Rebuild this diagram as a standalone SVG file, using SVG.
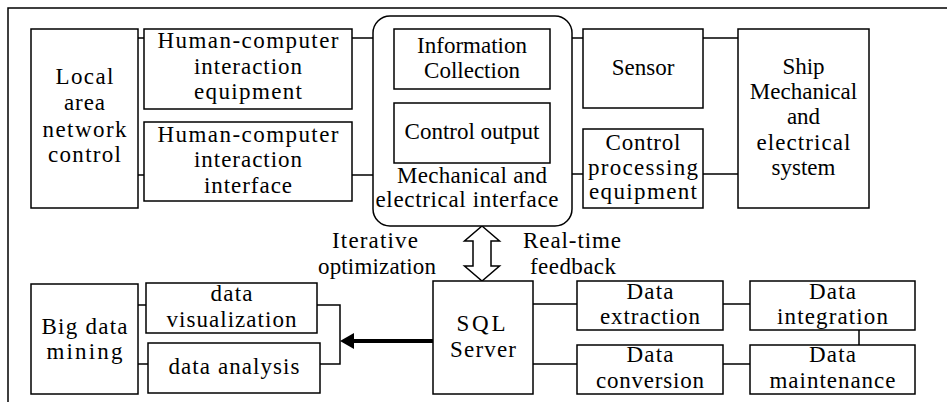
<svg xmlns="http://www.w3.org/2000/svg" width="947" height="402" viewBox="0 0 947 402">
<style>
  .box { fill: #fff; stroke: #000; stroke-width: 1.5; }
  .ln { fill: none; stroke: #000; stroke-width: 1.5; }
  text { font-family: "Liberation Serif", "Times New Roman", serif; font-size: 23px; fill: #000; text-anchor: middle; }
</style>
<rect width="947" height="402" fill="#fff"/>
<g id="frame">
  <path class="ln" d="M8,402 V8 H947" stroke-width="2"/>
</g>
<g id="connectors">
  <path class="ln" d="M138,38 H144 M138,175 H144"/>
  <path class="ln" d="M352,38 H373 M352,175 H373"/>
  <path class="ln" d="M572,38 H583 M703,38 H738"/>
  <path class="ln" d="M572,174 H583 M703,174 H738"/>
  <path class="ln" d="M138,305 H146 M138,364 H148"/>
  <path class="ln" d="M317,305 H340 V364 H320"/>
  <path class="ln" d="M533,304 H577 M723,304 H750"/>
  <path class="ln" d="M533,364 H577 M723,364 H750"/>
  <path class="ln" d="M859,330 V345"/>
  <path d="M433,341 H353" stroke="#000" stroke-width="4" fill="none"/>
  <path d="M340,341 L354,333 L354,349 Z" fill="#000"/>
  <path class="ln" d="M482,226 L499.5,241 H491 V266 H499.5 L482,281 L464.5,266 H473 V241 H464.5 Z" fill="#fff"/>
</g>
<g id="labels">
  <text x="375" y="247.5" textLength="86" lengthAdjust="spacing">Iterative</text>
  <text x="377" y="273.5" textLength="118" lengthAdjust="spacing">optimization</text>
  <text x="572" y="247.5" textLength="98" lengthAdjust="spacing">Real-time</text>
  <text x="573" y="273.5" textLength="86" lengthAdjust="spacing">feedback</text>
</g>
<g id="lan">
  <rect class="box" x="31" y="29" width="107" height="179"/>
  <text x="84.5" y="84" textLength="58" lengthAdjust="spacing">Local</text>
  <text x="84.5" y="110" textLength="41" lengthAdjust="spacing">area</text>
  <text x="84.5" y="136.5" textLength="84" lengthAdjust="spacing">network</text>
  <text x="84.5" y="162" textLength="73" lengthAdjust="spacing">control</text>
</g>
<g id="hci-equipment">
  <rect class="box" x="144" y="29" width="208" height="80"/>
  <text x="248" y="48" textLength="181" lengthAdjust="spacing">Human-computer</text>
  <text x="248" y="73.5" textLength="108" lengthAdjust="spacing">interaction</text>
  <text x="248" y="99" textLength="108" lengthAdjust="spacing">equipment</text>
</g>
<g id="hci-interface">
  <rect class="box" x="144" y="122" width="208" height="79"/>
  <text x="248" y="141.5" textLength="181" lengthAdjust="spacing">Human-computer</text>
  <text x="248" y="167" textLength="108" lengthAdjust="spacing">interaction</text>
  <text x="248" y="192.5" textLength="88" lengthAdjust="spacing">interface</text>
</g>
<g id="mech-interface">
  <rect class="box" x="373" y="16" width="199" height="210" rx="17"/>
  <text x="472" y="183" textLength="150" lengthAdjust="spacing">Mechanical and</text>
  <text x="467" y="207" textLength="183" lengthAdjust="spacing">electrical interface</text>
</g>
<g id="info-collection">
  <rect class="box" x="394" y="29" width="156" height="60"/>
  <text x="472" y="52.5">Information</text>
  <text x="472" y="77.5">Collection</text>
</g>
<g id="control-output">
  <rect class="box" x="394" y="103" width="156" height="60"/>
  <text x="472" y="139">Control output</text>
</g>
<g id="sensor">
  <rect class="box" x="583" y="29" width="120" height="79"/>
  <text x="643" y="75">Sensor</text>
</g>
<g id="control-processing">
  <rect class="box" x="583" y="129" width="120" height="79"/>
  <text x="643" y="150" textLength="75" lengthAdjust="spacing">Control</text>
  <text x="643" y="174.5" textLength="110" lengthAdjust="spacing">processing</text>
  <text x="643" y="199" textLength="108" lengthAdjust="spacing">equipment</text>
</g>
<g id="ship">
  <rect class="box" x="738" y="29" width="131" height="179"/>
  <text x="803.5" y="73.5">Ship</text>
  <text x="803.5" y="99">Mechanical</text>
  <text x="803.5" y="124">and</text>
  <text x="803.5" y="150" textLength="94" lengthAdjust="spacing">electrical</text>
  <text x="803.5" y="175">system</text>
</g>
<g id="big-data">
  <rect class="box" x="31" y="284" width="107" height="110"/>
  <text x="84.5" y="333.5" textLength="86" lengthAdjust="spacing">Big data</text>
  <text x="84.5" y="358.5" textLength="76" lengthAdjust="spacing">mining</text>
</g>
<g id="data-visualization">
  <rect class="box" x="146" y="283" width="171" height="50"/>
  <text x="231.5" y="301" textLength="42" lengthAdjust="spacing">data</text>
  <text x="231.5" y="326.5" textLength="130" lengthAdjust="spacing">visualization</text>
</g>
<g id="data-analysis">
  <rect class="box" x="148" y="343" width="172" height="50"/>
  <text x="234" y="373.5" textLength="131" lengthAdjust="spacing">data analysis</text>
</g>
<g id="sql-server">
  <rect class="box" x="433" y="281" width="100" height="113"/>
  <text x="481" y="331" textLength="49" lengthAdjust="spacing">SQL</text>
  <text x="483" y="357" textLength="66" lengthAdjust="spacing">Server</text>
</g>
<g id="data-extraction">
  <rect class="box" x="577" y="281" width="146" height="49"/>
  <text x="650" y="299" textLength="47" lengthAdjust="spacing">Data</text>
  <text x="650" y="324" textLength="100" lengthAdjust="spacing">extraction</text>
</g>
<g id="data-integration">
  <rect class="box" x="750" y="281" width="165" height="49"/>
  <text x="832.5" y="299" textLength="47" lengthAdjust="spacing">Data</text>
  <text x="832.5" y="324" textLength="111" lengthAdjust="spacing">integration</text>
</g>
<g id="data-conversion">
  <rect class="box" x="577" y="345" width="146" height="49"/>
  <text x="650" y="362" textLength="47" lengthAdjust="spacing">Data</text>
  <text x="650" y="388" textLength="108" lengthAdjust="spacing">conversion</text>
</g>
<g id="data-maintenance">
  <rect class="box" x="750" y="345" width="165" height="49"/>
  <text x="832.5" y="362" textLength="47" lengthAdjust="spacing">Data</text>
  <text x="832.5" y="388" textLength="126" lengthAdjust="spacing">maintenance</text>
</g>
</svg>
